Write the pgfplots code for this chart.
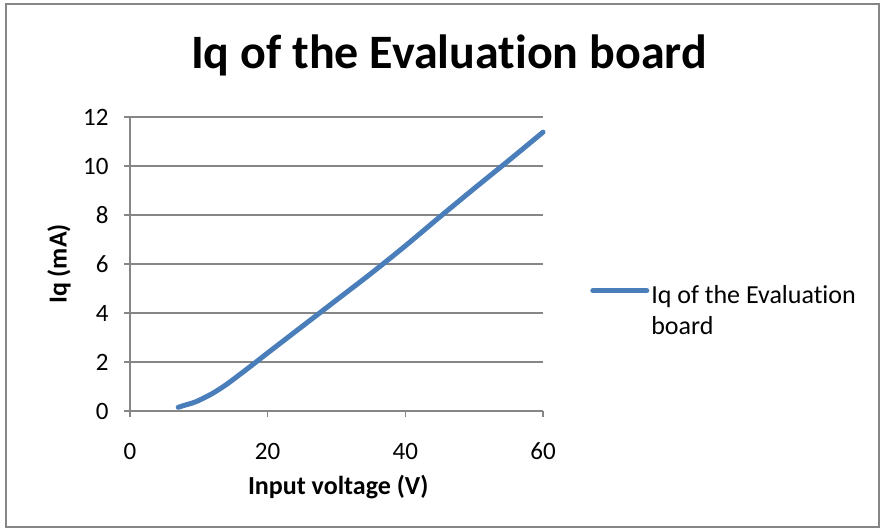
\documentclass[border=0pt]{standalone}
\usepackage{fontspec}
\setmainfont{Carlito}[RawFeature=-liga]
\usepackage{pgfplots}
\pgfplotsset{compat=1.18}
\definecolor{serblue}{RGB}{74,126,187}
\definecolor{gridgray}{RGB}{134,134,134}
\begin{document}
\begin{tikzpicture}[x=1pt,y=1pt]
\useasboundingbox (0,0) rectangle (880,530);
\draw[gridgray, line width=1.5pt] (6,3) rectangle (879,526);
\node[font=\fontsize{48}{56}\selectfont\bfseries] at (449,475) {Iq of the Evaluation board};
\begin{axis}[
  at={(130pt,119pt)}, anchor=south west,
  scale only axis, width=413pt, height=294pt,
  xmin=0, xmax=60, ymin=0, ymax=12,
  xtick={0,20,40,60}, ytick={0,2,4,6,8,10,12},
  axis lines*=left,
  axis line style={gridgray, line width=1.5pt},
  tick style={gridgray, line width=1.5pt},
  tick align=outside, major tick length=6pt,
  ymajorgrids, grid style={gridgray, line width=1.5pt},
  tick label style={font=\fontsize{25}{30}\selectfont},
  /pgf/number format/assume math mode=true,
  xticklabel style={anchor=center, yshift=-34pt},
  yticklabel style={anchor=east, xshift=-12pt},
  xlabel={\textbf{Input voltage (V)}},
  ylabel={\textbf{Iq (mA)}},
  label style={font=\fontsize{26}{31}\selectfont},
  xlabel style={at={(axis description cs:0.504,-0.2585)}, anchor=center},
  ylabel style={at={(axis description cs:-0.172,0.5)}, anchor=center},
  legend style={at={(1.114,0.4456)}, anchor=north west, draw=none, fill=none,
    font=\fontsize{26}{31}\selectfont, inner sep=0pt},
  legend cell align=left,
  legend image code/.code={\draw[serblue, line width=5pt, line cap=round] (0pt,0.3em) -- (54pt,0.3em);},
  clip=false,
]
\addplot[serblue, line width=5pt, line cap=round, smooth] coordinates {
(7,0.15) (8,0.24) (9,0.32) (10,0.43) (12,0.72) (14,1.08) (16,1.5) (18,1.93)
(20,2.37) (25,3.45) (30,4.53) (35,5.61) (40,6.74) (45,7.92) (50,9.08) (55,10.22) (60,11.38)
};
\addlegendentry{\begin{tabular}[t]{@{}l@{}}Iq of the Evaluation\\board\end{tabular}}
\end{axis}
\end{tikzpicture}
\end{document}
